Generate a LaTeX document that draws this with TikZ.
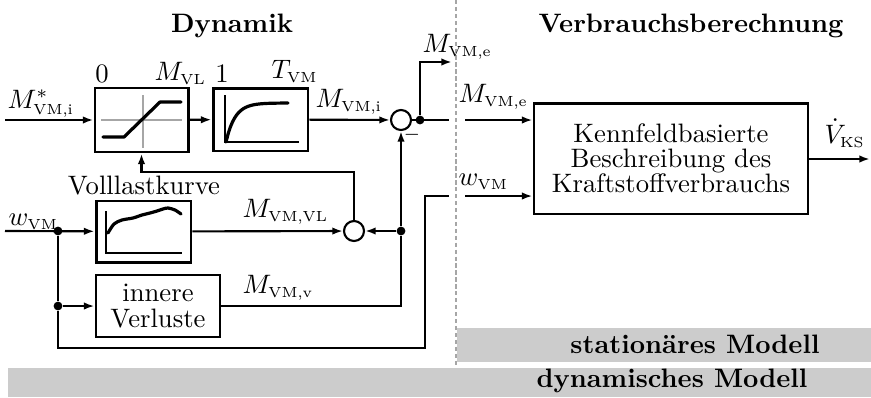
\documentclass[tikz,border=0pt]{standalone}
\usetikzlibrary{arrows.meta, positioning, calc}
\newcommand{\subtxt}[1]{_{\mbox{\fontsize{5.5}{6}\selectfont #1}}}
\tikzset{
    blockbox/.style={
        rectangle,
        draw=black,
        line width=1.1pt,
        fill=white,
        align=center,
        inner sep=0pt
    },
    sumnode/.style={
        circle,
        draw=black,
        line width=0.8pt,
        fill=white,
        minimum size=7.5pt,
        inner sep=0pt
    },
    dotnode/.style={
        circle,
        fill=black,
        minimum size=3.3pt,
        inner sep=0pt
    },
    sigline/.style={
        line width=0.8pt,
        color=black
    },
    arrow/.style={
        sigline,
        -{Latex[length=4pt, width=2.8pt]}
    },
    % Kennlinien in den Bloecken
    curve/.style={
        line width=1.2pt,
        line cap=round,
        line join=round
    },
    axis/.style={
        line width=0.4pt
    },
    sepline/.style={
        draw=gray!70,
        line width=0.5pt,
        dash pattern=on 1.6pt off 1pt
    },
    band/.style={
        fill=black!20,
        draw=none
    },
    lbl/.style={
        inner sep=0pt
    }
}

\begin{document}
\begin{tikzpicture}[x=0.375pt, y=-0.375pt]
    \useasboundingbox (0,0) rectangle (871,397);

    % Ueberschriften und Trennlinie
    \node[lbl, anchor=base, font=\bfseries] (tdyn) at (232,32) {Dynamik};
    \node[lbl, anchor=base, font=\bfseries] (tver) at (691,32) {Verbrauchsberechnung};
    \draw[sepline] (456,0) -- (456,365);

    % Bloecke
    \node[blockbox, minimum width=34.9pt, minimum height=24pt] (sat) at (141.5,120) {};
    \node[blockbox, minimum width=35.6pt, minimum height=23.6pt] (lag) at (260.5,119.5) {};
    \node[blockbox, minimum width=35.6pt, minimum height=22.9pt] (vl) at (143.5,231.5) {};
    \node[blockbox, minimum width=46.5pt, minimum height=23.25pt,
          font=\fontsize{10}{10}\selectfont] (loss) at (158,306) {innere\\Verluste};
    \node[blockbox, minimum width=102.75pt, minimum height=41.6pt,
          font=\fontsize{10}{9.4}\selectfont] (kenn) at (671,158.5)
          {Kennfeldbasierte\\Beschreibung des\\Kraftstoffverbrauchs};

    % Begrenzung
    \draw[axis, gray!70] (101,120) -- (182,120);
    \draw[axis, gray!70] (143,95) -- (143,148);
    \draw[curve] (103,137) -- (124,137) -- (160,102) -- (181,102);
    % Verzoegerung
    \draw[axis] (225,95) -- (225,142) -- (299,142);
    \draw[curve] plot[domain=0:62, samples=30] ({226+\x},{142-39*(1-exp(-\x/9))});
    % Volllastkurve
    \draw[axis] (106,211) -- (106,253) -- (182,253);
    \draw[curve] plot[smooth] coordinates {(108,233) (114,224) (122,220) (133,218)
        (142,215) (150,213) (157,211) (163,209) (168,208) (175,210) (181,214)};

    % Summationsstellen und Verzweigungen
    \node[sumnode] (sum1) at (401,120) {};
    \node[sumnode] (sum2) at (354,231) {};
    \node[dotnode] (d1) at (420,120) {};
    \node[dotnode] (d2) at (58,231) {};
    \node[dotnode] (d3) at (58,306) {};
    \node[dotnode] (d4) at (401,231) {};

    \coordinate (inM) at (5,120);
    \coordinate (inw) at (5,231);
    \coordinate (outMe) at (452,62);
    \coordinate (cutM) at (449,120);
    \coordinate (cutw) at (449,196);
    \coordinate (inMe) at (465,120);
    \coordinate (inwe) at (465,196);
    \coordinate (fb) at (354,172);
    \coordinate (lpb) at (425,348);
    \coordinate (outV) at (870,159);

    % Verbindungen
    \draw[arrow] (inM) -- (sat);
    \draw[arrow] (sat) -- (lag);
    \draw[arrow] (lag) -- (sum1);
    \draw[sigline] (sum1) -- (cutM);
    \draw[arrow] (d1) |- (outMe);
    \draw[arrow] (inw) -- (vl);
    \draw[sigline] (d2) -- (d3);
    \draw[arrow] (d3) -- (loss);
    \draw[sigline] (d3) |- (lpb) |- (cutw);
    \draw[arrow] (vl) -- (sum2);
    \draw[sigline] (loss) -| (d4);
    \draw[arrow] (d4) -- (sum2);
    \draw[arrow] (d4) -- (sum1);
    \draw[arrow] (sum2) -- (fb) -| (sat);
    \draw[arrow] (inMe) -- (kenn.west |- inMe);
    \draw[arrow] (inwe) -- (kenn.west |- inwe);
    \draw[arrow] (kenn.east |- outV) -- (outV);

    % Beschriftungen
    \node[lbl, anchor=base west] (lMs) at (7,108) {$M^{*}\subtxt{VM,i}$};
    \node[lbl, anchor=base] (l0) at (102,82) {0};
    \node[lbl, anchor=base west] (lVL) at (154,80) {$M\subtxt{VL}$};
    \node[lbl, anchor=base] (l1) at (222,82) {1};
    \node[lbl, anchor=base west] (lT) at (271,78) {$T\subtxt{VM}$};
    \node[lbl, anchor=base west] (lMi) at (315,107) {$M\subtxt{VM,i}$};
    \node[lbl, anchor=base west] (lMe) at (422,52) {$M\subtxt{VM,e}$};
    \node[lbl, anchor=base west] (lMe2) at (458,102) {$M\subtxt{VM,e}$};
    \node[lbl, anchor=base west] (lw2) at (458,185) {$w\subtxt{VM}$};
    \node[lbl, anchor=base west] (lV) at (824,143) {$\dot{V}\subtxt{KS}$};
    \node[lbl, anchor=base west] (lw) at (8,225) {$w\subtxt{VM}$};
    \node[lbl, anchor=base] (lvk) at (144,194) {Volllastkurve};
    \node[lbl, anchor=base west] (lMVL) at (242,217) {$M\subtxt{VM,VL}$};
    \node[lbl, anchor=base west] (lMv) at (242,293) {$M\subtxt{VM,v}$};
    \node[lbl, font=\scriptsize] (lminus) at (412,135) {$-$};

    % Modellbereiche
    \fill[band] (457,328) rectangle (871,362);
    \node[lbl, anchor=base, font=\bfseries] (stat) at (695,353) {stationäres Modell};
    \fill[band] (8,368) rectangle (871,397);
    \node[lbl, anchor=base, font=\bfseries] (dyn) at (672,387) {dynamisches Modell};
\end{tikzpicture}
\end{document}
